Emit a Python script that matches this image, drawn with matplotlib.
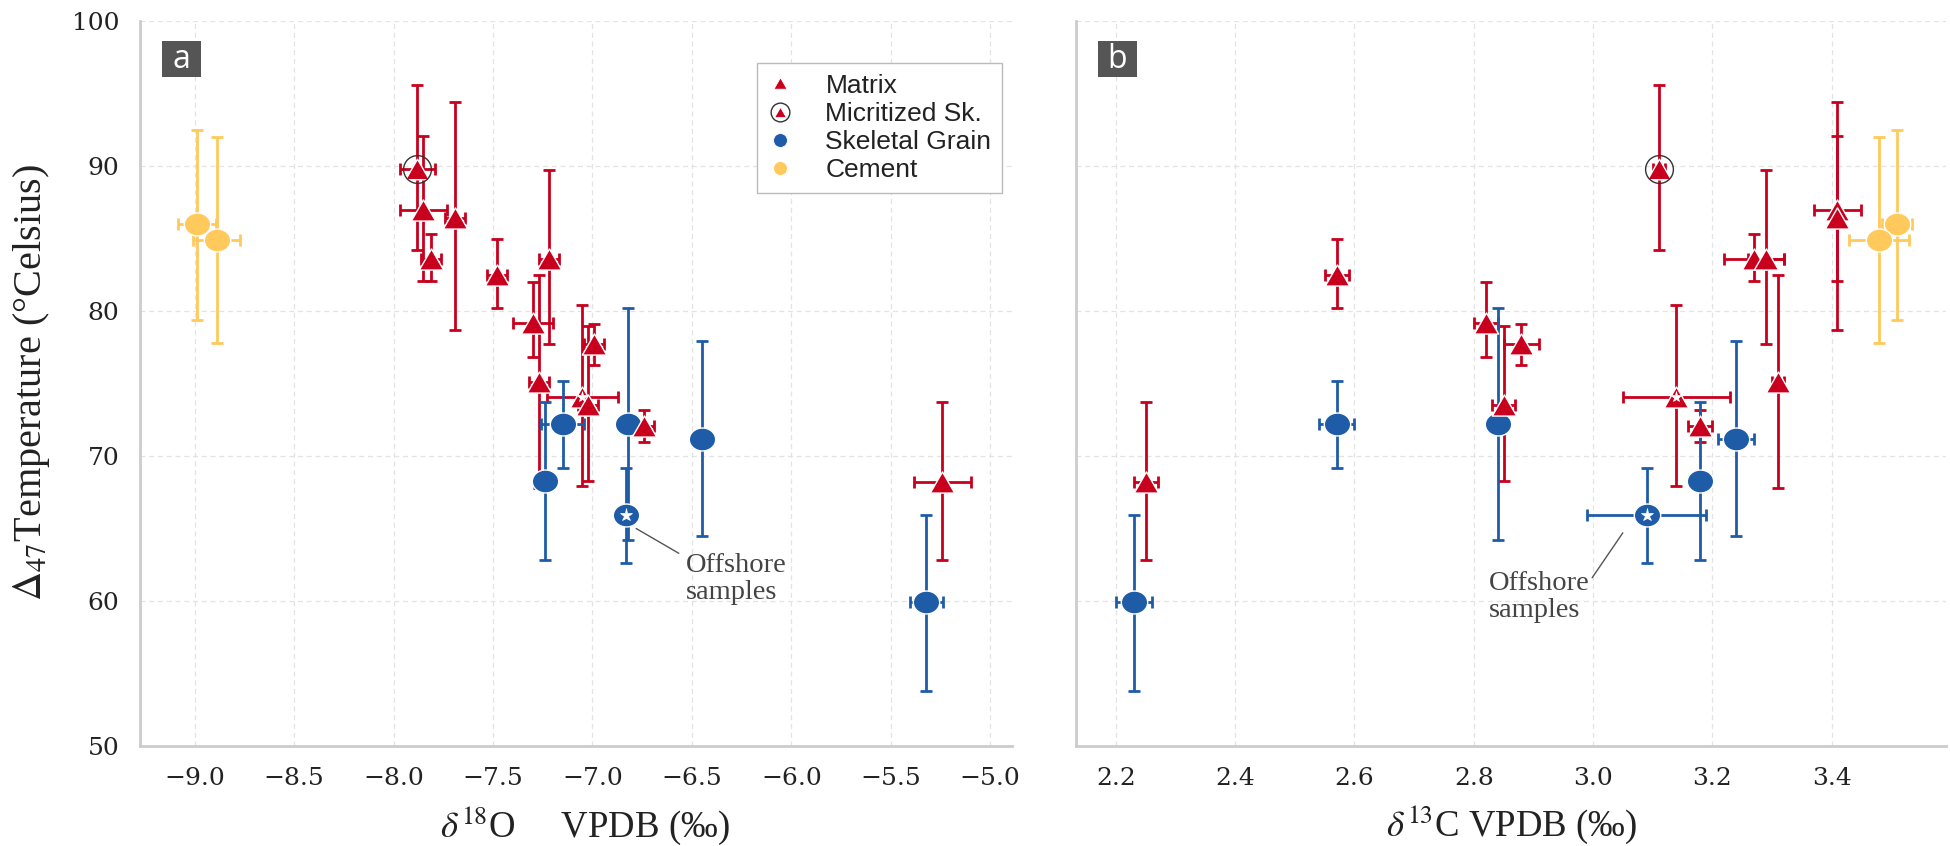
import numpy as np
import matplotlib
matplotlib.use("Agg")
import matplotlib.pyplot as plt
from matplotlib.path import Path
from matplotlib.lines import Line2D
from matplotlib.patches import Rectangle
from matplotlib.legend_handler import HandlerTuple

# ---------------- data ----------------
# Matrix samples
mx_d18O = [-7.85, -7.69, -7.81, -7.48, -7.22, -7.30, -7.27, -6.99, -7.05, -7.02, -6.74, -5.24]
mx_d18O_err = [0.12, 0.05, 0.05, 0.05, 0.05, 0.10, 0.05, 0.05, 0.18, 0.05, 0.05, 0.145]
mx_d13C = [3.41, 3.41, 3.27, 2.57, 3.29, 2.82, 3.31, 2.88, 3.14, 2.85, 3.18, 2.25]
mx_d13C_err = [0.04, 0.01, 0.05, 0.02, 0.03, 0.02, 0.01, 0.03, 0.09, 0.02, 0.02, 0.02]
mx_T = [87.0, 86.4, 83.6, 82.5, 83.6, 79.2, 75.1, 77.7, 74.1, 73.5, 72.1, 68.2]
mx_T_lo = [82.1, 78.7, 82.1, 80.2, 77.7, 76.8, 67.8, 76.3, 67.9, 68.3, 71.0, 62.8]
mx_T_hi = [92.1, 94.4, 85.3, 85.0, 89.7, 82.0, 82.5, 79.1, 80.4, 79.0, 73.2, 73.7]
mx_offshore = [False, False, False, False, False, False, False, False, True, False, False, False]

# Micritized skeletal grain
mc_d18O = [-7.88]
mc_d18O_err = [0.09]
mc_d13C = [3.11]
mc_d13C_err = [0.01]
mc_T = [89.8]
mc_T_lo = [84.2]
mc_T_hi = [95.6]

# Skeletal grains
sk_d18O = [-7.15, -7.24, -6.82, -6.83, -6.45, -5.32]
sk_d18O_err = [0.11, 0.05, 0.02, 0.02, 0.02, 0.085]
sk_d13C = [2.57, 3.18, 2.84, 3.09, 3.24, 2.23]
sk_d13C_err = [0.03, 0.01, 0.01, 0.10, 0.03, 0.03]
sk_T = [72.2, 68.3, 72.2, 65.9, 71.2, 59.9]
sk_T_lo = [69.2, 62.8, 64.2, 62.6, 64.5, 53.8]
sk_T_hi = [75.2, 73.7, 80.2, 69.2, 77.9, 65.9]
sk_offshore = [False, False, False, True, False, False]

# Cement
cm_d18O = [-8.99, -8.89]
cm_d18O_err = [0.095, 0.12]
cm_d13C = [3.51, 3.48]
cm_d13C_err = [0.025, 0.05]
cm_T = [86.0, 84.9]
cm_T_lo = [79.4, 77.8]
cm_T_hi = [92.5, 92.0]

legend_labels = ["Matrix", "Micritized Sk.", "Skeletal Grain", "Cement"]
x_ticks_O = [-9.0, -8.5, -8.0, -7.5, -7.0, -6.5, -6.0, -5.5, -5.0]
x_ticks_C = [2.2, 2.4, 2.6, 2.8, 3.0, 3.2, 3.4]
y_ticks = [50, 60, 70, 80, 90, 100]

# ---------------- style ----------------
RED = "#C8001E"
BLUE = "#1F5CA8"
YELLOW = "#FFC95C"
SERIF = "Liberation Serif"
plt.rcParams["font.family"] = ["DejaVu Serif"]
plt.rcParams["mathtext.fontset"] = "stix"

# slightly wide markers (the reference is stretched horizontally)
STRETCH = 1.15
tri = Path(np.array([(0, 1), (-STRETCH, -1), (STRETCH, -1), (0, 1)]),
           [Path.MOVETO, Path.LINETO, Path.LINETO, Path.CLOSEPOLY])
uc = Path.unit_circle()
ell = Path(uc.vertices * np.array([STRETCH, 1.0]), uc.codes)

fig = plt.figure(figsize=(19.5, 8.46), dpi=100)
ax1 = fig.add_axes([140 / 1950, 1 - 746 / 846, 872 / 1950, 725 / 846])
ax2 = fig.add_axes([1076 / 1950, 1 - 746 / 846, 870 / 1950, 725 / 846])

ERR_KW = dict(fmt="none", elinewidth=2.0, capsize=4.5, capthick=2.0, zorder=2)


def asym(T, lo, hi):
    T = np.asarray(T); lo = np.asarray(lo); hi = np.asarray(hi)
    return np.vstack([T - lo, hi - T])


def draw(ax, mx_x, mx_xe, mc_x, mc_xe, sk_x, sk_xe, cm_x, cm_xe):
    # error bars
    ax.errorbar(cm_x, cm_T, xerr=cm_xe, yerr=asym(cm_T, cm_T_lo, cm_T_hi), ecolor=YELLOW, **ERR_KW)
    ax.errorbar(mx_x, mx_T, xerr=mx_xe, yerr=asym(mx_T, mx_T_lo, mx_T_hi), ecolor=RED, **ERR_KW)
    ax.errorbar(mc_x, mc_T, xerr=mc_xe, yerr=asym(mc_T, mc_T_lo, mc_T_hi), ecolor=RED, **ERR_KW)
    ax.errorbar(sk_x, sk_T, xerr=sk_xe, yerr=asym(sk_T, sk_T_lo, sk_T_hi), ecolor=BLUE, **ERR_KW)
    # markers
    ax.plot(cm_x, cm_T, ls="none", marker=ell, ms=19, mfc=YELLOW, mec="white", mew=1.0, zorder=3)
    ax.plot(sk_x, sk_T, ls="none", marker=ell, ms=19, mfc=BLUE, mec="white", mew=1.0, zorder=3)
    ax.plot(mx_x, mx_T, ls="none", marker=tri, ms=17.5, mfc=RED, mec="white", mew=1.0, zorder=4)
    ax.plot(mc_x, mc_T, ls="none", marker=tri, ms=17, mfc=RED, mec="white", mew=1.0, zorder=4)
    ax.plot(mc_x, mc_T, ls="none", marker="o", ms=20, mfc="none", mec="#333333", mew=1.0, zorder=5)
    # offshore stars
    sx = [x for x, f in zip(sk_x, sk_offshore) if f]
    sy = [t for t, f in zip(sk_T, sk_offshore) if f]
    ax.plot(sx, sy, ls="none", marker="*", ms=9.5, mfc="white", mec="white", mew=0.5, zorder=6)
    mxs = [x for x, f in zip(mx_x, mx_offshore) if f]
    mys = [t for t, f in zip(mx_T, mx_offshore) if f]
    ax.plot(mxs, mys, ls="none", marker="*", ms=8, mfc="white", mec="white", mew=0.5, zorder=6)


draw(ax1, mx_d18O, mx_d18O_err, mc_d18O, mc_d18O_err, sk_d18O, sk_d18O_err, cm_d18O, cm_d18O_err)
draw(ax2, mx_d13C, mx_d13C_err, mc_d13C, mc_d13C_err, sk_d13C, sk_d13C_err, cm_d13C, cm_d13C_err)

for ax in (ax1, ax2):
    ax.set_ylim(50, 100)
    ax.set_yticks(y_ticks)
    ax.grid(True, color="#e3e3e3", linestyle=(0, (4, 3)), linewidth=0.9, zorder=0)
    ax.set_axisbelow(True)
    for s in ("top", "right"):
        ax.spines[s].set_visible(False)
    for s in ("left", "bottom"):
        ax.spines[s].set_color("#cccccc")
        ax.spines[s].set_linewidth(2.0)
    ax.tick_params(length=0, pad=15, labelsize=18, labelcolor="#222222")

ax1.set_xlim(-9.275, -4.89)
ax1.set_xticks(x_ticks_O)
ax2.set_xlim(2.133, 3.592)
ax2.set_xticks(x_ticks_C)
ax2.set_xticklabels([f"{v:.1f}" for v in x_ticks_C])
ax2.tick_params(labelleft=False)

# axis labels
fig.text(32 / 1950, 1 - 383 / 846, r"$\Delta_{47}$Temperature (°Celsius)", rotation=90,
         ha="center", va="center", fontsize=29, family=SERIF, color="#222222")
fig.text(585 / 1950, 1 - 826 / 846, r"$\delta^{18}$O     VPDB (‰)",
         ha="center", va="center", fontsize=26.5, family=SERIF, color="#222222")
fig.text(1511 / 1950, 1 - 825 / 846, r"$\delta^{13}$C VPDB (‰)",
         ha="center", va="center", fontsize=26.5, family=SERIF, color="#222222")

# panel labels
for ax, lab in ((ax1, "a"), (ax2, "b")):
    ax.add_patch(Rectangle((0.025, 0.923), 0.045, 0.049, transform=ax.transAxes,
                           facecolor="#555555", edgecolor="none", zorder=7, clip_on=False))
    ax.text(0.025 + 0.045 / 2, 0.923 + 0.049 / 2, lab, transform=ax.transAxes,
            ha="center", va="center", color="white", fontsize=23, family="Open Sans", zorder=8)

# offshore annotations
ax1.annotate("Offshore\nsamples", xy=(-6.78, 65.0), xytext=(-6.53, 61.5),
             ha="left", va="center", fontsize=20.5, family=SERIF, color="#444444", linespacing=1.1,
             arrowprops=dict(arrowstyle="-", color="#555555", lw=1.0, relpos=(-0.07, 1.0),
                             shrinkA=0, shrinkB=0))
ax2.annotate("Offshore\nsamples", xy=(3.05, 64.7), xytext=(2.825, 60.25),
             ha="left", va="center", fontsize=20.5, family=SERIF, color="#444444", linespacing=1.1,
             arrowprops=dict(arrowstyle="-", color="#555555", lw=1.0, relpos=(1.0, 0.8),
                             shrinkA=0, shrinkB=0))

# legend
h_mx = Line2D([], [], ls="none", marker=tri, ms=9.5, mfc=RED, mec="white", mew=0.6)
h_mc = (Line2D([], [], ls="none", marker="o", ms=13.5, mfc="none", mec="#333333", mew=1.0),
        Line2D([], [], ls="none", marker=tri, ms=8.5, mfc=RED, mec="white", mew=0.6))
h_sk = Line2D([], [], ls="none", marker="o", ms=10, mfc=BLUE, mec="white", mew=0.6)
h_cm = Line2D([], [], ls="none", marker="o", ms=10, mfc=YELLOW, mec="white", mew=0.6)
leg = ax1.legend([h_mx, h_mc, h_sk, h_cm], legend_labels,
                 handler_map={tuple: HandlerTuple(ndivide=1, pad=0)},
                 loc="upper right", bbox_to_anchor=(0.9885, 0.942), borderaxespad=0,
                 prop={"family": "Liberation Sans", "size": 19}, fancybox=False,
                 framealpha=1, edgecolor="#bbbbbb", labelspacing=0.16,
                 handlelength=0.95, handletextpad=1.25, borderpad=0.4)
leg.get_frame().set_linewidth(1.0)
leg.set_zorder(10)
for t in leg.get_texts():
    t.set_color("#222222")

fig.savefig("out.png", dpi=100, facecolor="white")
